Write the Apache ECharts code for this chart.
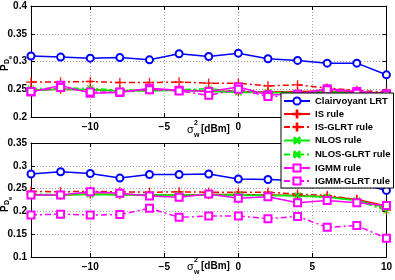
<!DOCTYPE html>
<html><head><meta charset="utf-8">
<script src="https://cdn.jsdelivr.net/npm/echarts@6/dist/echarts.min.js"></script>
<style>html,body{margin:0;padding:0;background:#fff}#c{width:395px;height:280px}</style>
</head><body><div id="c"></div>
<script>
const xValues = [-14,-12,-10,-8,-6,-4,-2,0,2,4,6,8,10];
const seriesNames = ['Clairvoyant LRT','IS rule','IS-GLRT rule','NLOS rule','NLOS-GLRT rule','IGMM rule','IGMM-GLRT rule'];

const clairTop    = [0.310,0.308,0.306,0.307,0.303,0.314,0.309,0.315,0.305,0.302,0.297,0.297,0.276];
const isRuleTop   = [0.248,0.250,0.249,0.247,0.249,0.248,0.247,0.246,0.245,0.246,0.247,0.245,0.243];
const isGlrtTop   = [0.263,0.263,0.264,0.262,0.262,0.263,0.261,0.261,0.256,0.258,0.252,0.248,0.245];
const nlosRuleTop = [0.248,0.250,0.249,0.247,0.247,0.248,0.246,0.244,0.244,0.243,0.245,0.243,0.242];
const nlosGlrtTop = [0.251,0.252,0.252,0.248,0.249,0.249,0.251,0.246,0.245,0.244,0.246,0.244,0.243];
const igmmRuleTop = [0.245,0.257,0.243,0.244,0.252,0.248,0.246,0.254,0.240,0.241,0.251,0.246,0.242];
const igmmGlrtTop = [0.246,0.253,0.245,0.245,0.249,0.247,0.239,0.250,0.237,0.238,0.249,0.243,0.240];

const clairBot    = [0.282,0.287,0.283,0.273,0.281,0.281,0.282,0.271,0.270,0.268,0.262,0.262,0.246];
const isRuleBot   = [0.237,0.236,0.238,0.237,0.236,0.236,0.237,0.237,0.236,0.235,0.232,0.226,0.212];
const isGlrtBot   = [0.244,0.243,0.244,0.243,0.242,0.243,0.242,0.242,0.242,0.238,0.235,0.226,0.203];
const nlosRuleBot = [0.236,0.236,0.237,0.236,0.236,0.235,0.236,0.235,0.235,0.234,0.231,0.224,0.208];
const nlosGlrtBot = [0.238,0.237,0.238,0.237,0.237,0.236,0.237,0.237,0.236,0.235,0.232,0.224,0.202];
const igmmRuleBot = [0.236,0.236,0.243,0.240,0.234,0.231,0.238,0.229,0.232,0.219,0.224,0.219,0.213];
const igmmGlrtBot = [0.192,0.194,0.192,0.193,0.207,0.187,0.190,0.190,0.184,0.189,0.165,0.169,0.141];

const yTopRange = [0.2, 0.4];
const yBotRange = [0.1, 0.35];

const FONT = '"Liberation Sans", Arial, sans-serif';
const PLUS = 'path://M4.55,0H5.45V4.55H10V5.45H5.45V10H4.55V5.45H0V4.55H4.55Z';
const styles = [
  {color:'#0000ff', symbol:'emptyCircle', size:7, type:'solid', rot:0},
  {color:'#ff0000', symbol:PLUS, size:9, type:'solid', rot:0},
  {color:'#ff0000', symbol:PLUS, size:9, type:[6,3,2,3], rot:0},
  {color:'#00ee00', symbol:PLUS, size:8, type:'solid', rot:45},
  {color:'#00ee00', symbol:PLUS, size:8, type:[6,3,2,3], rot:45},
  {color:'#ff00ff', symbol:'emptyRect', size:7, type:'solid', rot:0},
  {color:'#ff00ff', symbol:'emptyRect', size:7, type:[6,3,2,3], rot:0}
];
const topData = [clairTop,isRuleTop,isGlrtTop,nlosRuleTop,nlosGlrtTop,igmmRuleTop,igmmGlrtTop];
const botData = [clairBot,isRuleBot,isGlrtBot,nlosRuleBot,nlosGlrtBot,igmmRuleBot,igmmGlrtBot];

function mkSeries(idx, vals, axisIdx) {
  const s = styles[idx];
  const isPath = typeof s.symbol === 'string' && s.symbol.indexOf('path://') === 0;
  return {
    name: seriesNames[idx], type:'line', xAxisIndex:axisIdx, yAxisIndex:axisIdx,
    data: xValues.map((x,i)=>[x, vals[i]]),
    symbol: s.symbol, symbolSize: s.size, symbolRotate: s.rot,
    lineStyle:{color:s.color, width:1.5, type:s.type},
    itemStyle: isPath ? {color:s.color, borderColor:s.color, borderWidth:0.4}
                      : {color:s.color, borderColor:s.color, borderWidth:1.5},
    emphasis:{disabled:true}
  };
}
const series = [];
topData.forEach((v,i)=>series.push(mkSeries(i, v, 0)));
botData.forEach((v,i)=>series.push(mkSeries(i, v, 1)));

const xFmt = v => (v % 5 === 0) ? (v < 0 ? '\u2212' + (-v) : String(v)) : '';
const yFmt = v => String(+v.toFixed(2));
const gridLine = {show:true, lineStyle:{color:'#a0a0a0', type:[1,2], width:1}};
const lblStyle = {color:'#000', fontWeight:'bold', fontSize:10, fontFamily:FONT};

function xAx(gi, pos, labels) {
  return {gridIndex:gi, type:'value', position:pos, min:xValues[0], max:xValues[xValues.length-1],
    axisLine:{show:true, onZero:false, lineStyle:{color:'#000', width:1}},
    axisTick:{show:true, inside:true, length:4, lineStyle:{color:'#000'}},
    axisLabel: labels ? Object.assign({formatter:xFmt, margin:5}, lblStyle) : {show:false},
    splitLine: labels ? gridLine : {show:false}};
}
function yAx(gi, pos, range, labels) {
  return {gridIndex:gi, type:'value', position:pos, min:range[0], max:range[1], interval:0.05,
    axisLine:{show:true, onZero:false, lineStyle:{color:'#000', width:1}},
    axisTick:{show:true, inside:true, length:4, lineStyle:{color:'#000'}},
    axisLabel: labels ? Object.assign({formatter:yFmt, margin:4, showMaxLabel:true, showMinLabel:true}, lblStyle) : {show:false},
    splitLine: labels ? gridLine : {show:false}};
}

function yName(gy) {
  return {type:'group', x:0, y:gy, rotation:Math.PI/2, z:10, children:[
    {type:'text', x:0, y:0, style:{text:'P', font:'bold 10px '+FONT, fill:'#000', textVerticalAlign:'top'}},
    {type:'text', x:7, y:4, style:{text:'D', font:'bold 7px '+FONT, fill:'#000', textVerticalAlign:'top'}},
    {type:'text', x:12, y:7, style:{text:'e', font:'bold 6px '+FONT, fill:'#000', textVerticalAlign:'top'}}
  ]};
}
function xName(cy) {
  return {type:'group', x:0, y:cy, z:3, children:[
    {type:'text', x:187, y:1, style:{text:'\u03c3', font:'11px '+FONT, fill:'#000', textVerticalAlign:'middle'}},
    {type:'text', x:194, y:-6, style:{text:'2', font:'bold 7px '+FONT, fill:'#000', textVerticalAlign:'middle'}},
    {type:'text', x:194, y:6, style:{text:'w', font:'bold 7px '+FONT, fill:'#000', textVerticalAlign:'middle'}},
    {type:'text', x:201, y:0, style:{text:'[dBm]', font:'bold 10px '+FONT, fill:'#000', textVerticalAlign:'middle'}}
  ]};
}

const chart = echarts.init(document.getElementById('c'), null, {renderer:'canvas'});
chart.setOption({
  animation:false,
  backgroundColor:'#fff',
  grid:[
    {left:31, right:8, top:6, height:111},
    {left:31, right:8, top:143, height:114}
  ],
  xAxis:[xAx(0,'bottom',true), xAx(1,'bottom',true), xAx(0,'top',false), xAx(1,'top',false)],
  yAxis:[yAx(0,'left',yTopRange,true), yAx(1,'left',yBotRange,true), yAx(0,'right',yTopRange,false), yAx(1,'right',yBotRange,false)],
  legend:{data:seriesNames, orient:'vertical', left:281, top:93, itemWidth:26, itemHeight:9, itemGap:1,
    padding:[2,3,1,2], backgroundColor:'#fff', borderColor:'#000', borderWidth:1, borderRadius:0,
    textStyle:{fontSize:9.5, lineHeight:12, fontWeight:'bold', color:'#000', fontFamily:FONT}, selectedMode:false, z:20},
  graphic:[yName(71), yName(212), xName(129), xName(266)],
  series: series
});
</script></body></html>
